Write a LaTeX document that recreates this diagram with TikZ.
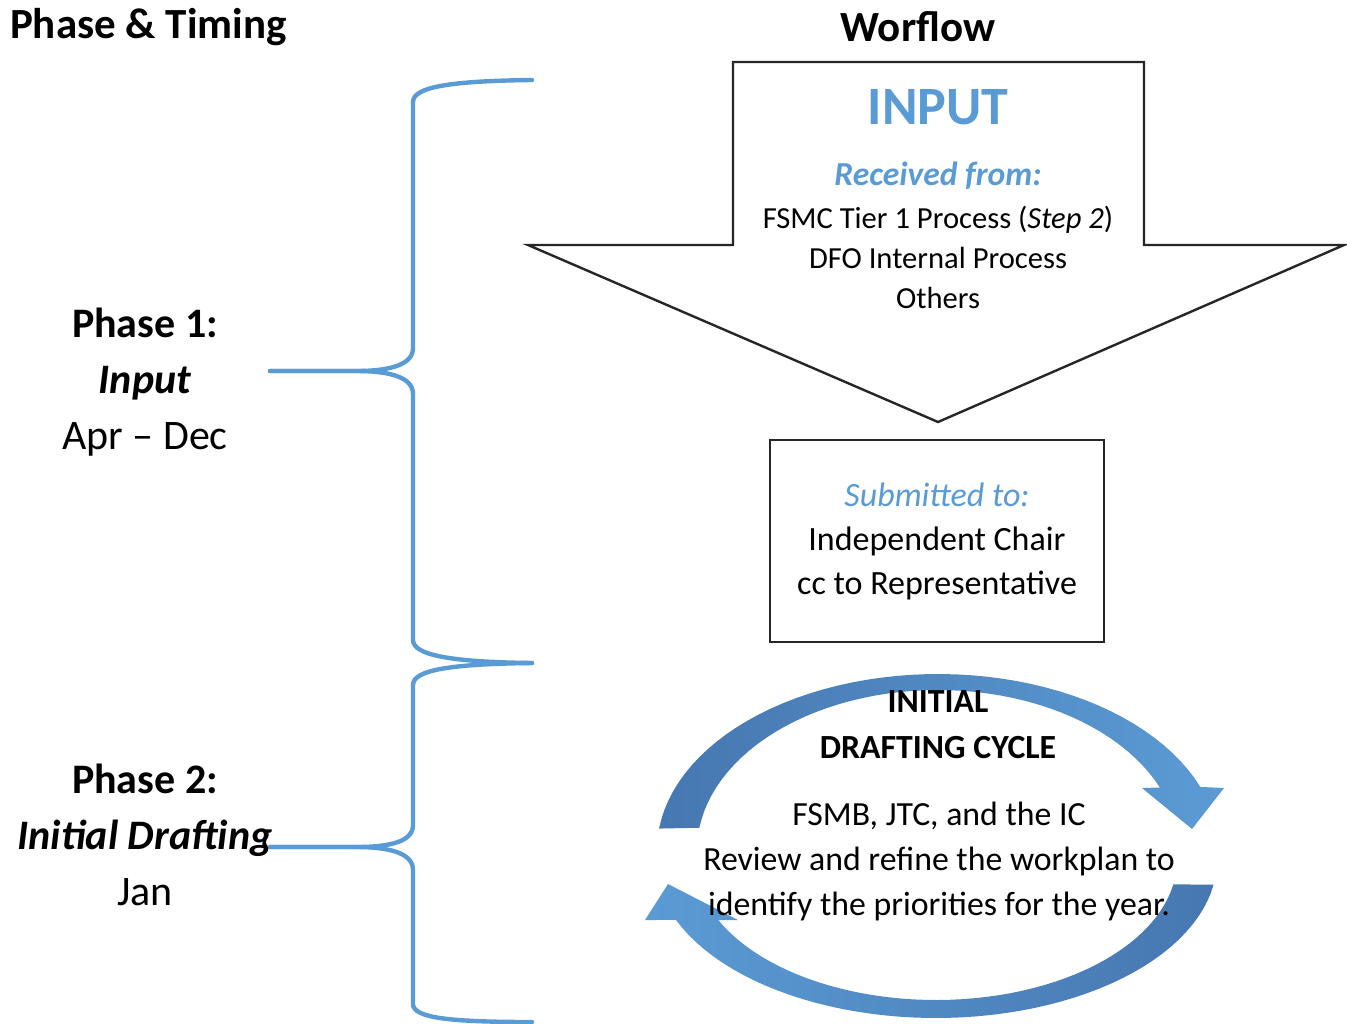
\documentclass[tikz,border=0pt]{standalone}
\usepackage{fontspec}
\setmainfont{Carlito}
\usetikzlibrary{positioning}
\definecolor{wordblue}{HTML}{5B9BD5}
\definecolor{worddark}{HTML}{4677B0}

\begin{document}
\begin{tikzpicture}[x=0.5pt,y=-0.5pt]
  \tikzset{heading/.style = {font=\fontsize{21.5pt}{25}\selectfont\bfseries},
           phasetext/.style = {font=\fontsize{21pt}{28}\selectfont, align=center},
           flowtext/.style = {font=\fontsize{17pt}{22}\selectfont, align=center},
           smalltext/.style = {font=\fontsize{15.3pt}{20}\selectfont, align=center},
           bracket/.style = {draw=wordblue, line width=2.2pt, line cap=round},
           outline/.style = {draw=black!85, line width=1.2pt, fill=white}}
  \useasboundingbox (0,0) rectangle (1347,1023);

  % column headings
  \node[heading, anchor=west] (timing) at (3,27) {Phase \& Timing};
  \node[heading] (workflow) at (918,27) {Worflow};

  % braces
  \draw[bracket] (532,80) .. controls (450,81) and (413,87) .. (413,102) -- (413,348)
    .. controls (413,364) and (392,371) .. (356,371) -- (270,371);
  \draw[bracket] (270,371) -- (356,371) .. controls (392,371) and (413,378) .. (413,394)
    -- (413,640) .. controls (413,655) and (450,662) .. (532,663);
  \draw[bracket] (532,663) .. controls (450,664) and (413,670) .. (413,685) -- (413,825)
    .. controls (413,841) and (392,847) .. (356,847) -- (270,847);
  \draw[bracket] (270,847) -- (356,847) .. controls (392,847) and (413,854) .. (413,870)
    -- (413,1004) .. controls (413,1018) and (450,1022) .. (532,1022);

  % phase labels
  \node[phasetext] (phase1) at (145,382) {\textbf{Phase 1:}\\\textbf{\textit{Input}}\\Apr -- Dec};
  \node[phasetext] (phase2) at (145,835) {\textbf{Phase 2:}\\\textbf{\textit{Initial Drafting}}\\Jan};

  % input arrow
  \draw[outline] (733,62) -- (1144,62) -- (1144,245) -- (1344,245) -- (938,422)
    -- (528,245) -- (733,245) -- cycle;
  \node[font=\fontsize{27pt}{30}\selectfont\bfseries, text=wordblue] (input) at (938,107) {INPUT};
  \node[font=\fontsize{16.8pt}{20}\selectfont\bfseries\itshape, text=wordblue] (received) at (938,176) {Received from:};
  \node[smalltext] (sources) at (938,257) {FSMC Tier 1 Process (\textit{Step 2})\\DFO Internal Process\\Others};

  % submitted box
  \node[outline, flowtext, minimum width=167pt, minimum height=101pt] (submitted) at (937,541)
    {\textcolor{wordblue}{\textit{Submitted to:}}\\Independent Chair\\cc to Representative};

  % drafting cycle arrows
  \shade[left color=worddark, right color=wordblue]
    plot[domain=173:21, samples=50] ({938+281*cos(\x)},{850-176*sin(\x)})
    -- (1224,788) -- (1192,829) -- (1142,788)
    -- plot[domain=23:172, samples=50] ({938+241*cos(\x)},{850-160*sin(\x)}) -- cycle;
  \shade[left color=wordblue, right color=worddark]
    plot[domain=-9:-157.7, samples=50] ({936+281*cos(\x)},{860-158*sin(\x)})
    -- (645,920) -- (668,884) -- (738,920)
    -- plot[domain=-154.6:-10, samples=50] ({936+241*cos(\x)},{860-140*sin(\x)}) -- cycle;

  \node[font=\fontsize{16.9pt}{23}\selectfont\bfseries, align=center] (cycle) at (938,725) {INITIAL\\DRAFTING CYCLE};
  \node[flowtext, font=\fontsize{16.9pt}{22.5}\selectfont] (drafting) at (939,861)
    {FSMB, JTC, and the IC\\Review and refine the workplan to\\identify the priorities for the year.};

\end{tikzpicture}
\end{document}
